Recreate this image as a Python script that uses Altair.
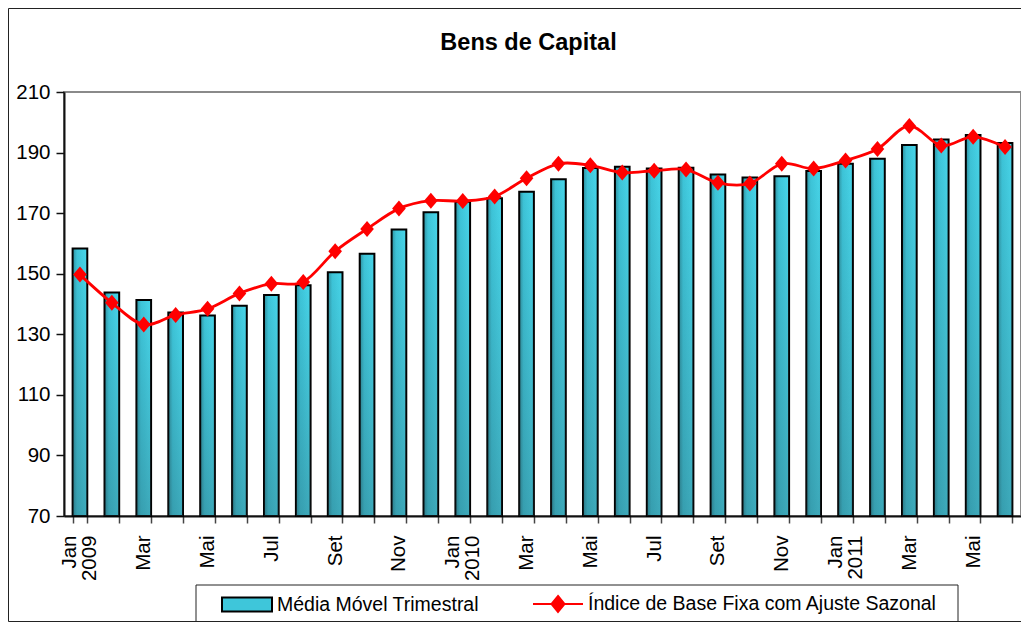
import altair as alt
import pandas as pd

# ---------------- data ----------------
periodos = [
    "2009-01", "2009-02", "2009-03", "2009-04", "2009-05", "2009-06",
    "2009-07", "2009-08", "2009-09", "2009-10", "2009-11", "2009-12",
    "2010-01", "2010-02", "2010-03", "2010-04", "2010-05", "2010-06",
    "2010-07", "2010-08", "2010-09", "2010-10", "2010-11", "2010-12",
    "2011-01", "2011-02", "2011-03", "2011-04", "2011-05", "2011-06",
]
rotulos = [
    "Jan\u00a0|2009", "", "Mar", "", "Mai", "", "Jul", "", "Set", "", "Nov", "",
    "Jan\u00a0|2010", "", "Mar", "", "Mai", "", "Jul", "", "Set", "", "Nov", "",
    "Jan\u00a0|2011", "", "Mar", "", "Mai", "",
]
media_movel = [
    158.3, 143.8, 141.3, 137.2, 136.2, 139.4, 143.0, 146.2, 150.5, 156.6,
    164.6, 170.3, 173.8, 174.9, 177.1, 181.2, 184.9, 185.3, 184.7, 185.0,
    182.8, 181.8, 182.2, 183.9, 186.3, 188.0, 192.5, 194.3, 195.8, 193.2,
]
indice_ajustado = [
    149.7, 140.4, 133.2, 136.4, 138.4, 143.5, 146.7, 147.3, 157.4, 164.8,
    171.5, 174.1, 174.0, 175.5, 181.5, 186.3, 185.8, 183.4, 184.0, 184.4,
    180.0, 179.8, 186.3, 184.7, 187.4, 191.2, 198.8, 192.3, 195.2, 191.8,
]
series = ["Média Móvel Trimestral", "Índice de Base Fixa com Ajuste Sazonal"]
y_ticks = [70, 90, 110, 130, 150, 170, 190, 210]
titulo = "Bens de Capital"

df = pd.DataFrame({"periodo": periodos, "media": media_movel, "indice": indice_ajustado})

FONT = "Liberation Sans"
W, H = 957, 424

arr_rot = "[" + ",".join("'" + r + "'" for r in rotulos) + "]"
arr_per = "[" + ",".join("'" + p + "'" for p in periodos) + "]"
arr_two = "[" + ",".join("'" + p + "'" for p, r in zip(periodos, rotulos) if "|" in r) + "]"
label_expr = (
    f"indexof({arr_per}, datum.value) >= 0 ? "
    f"split({arr_rot}[indexof({arr_per}, datum.value)], '|') : ''"
)
two_line_test = f"indexof({arr_two}, datum.value) >= 0"

x_enc = alt.X(
    "periodo:N",
    sort=periodos,
    scale=alt.Scale(paddingInner=0.54, paddingOuter=0.27),
    axis=alt.Axis(
        title=None,
        tickBand="extent",
        tickSize=7,
        tickColor="#444444",
        tickWidth=1.5,
        domainColor="#111111",
        domainWidth=2,
        labelAngle=270,
        labelAlign="right",
        labelBaseline="middle",
        labelFont=FONT,
        labelFontSize=20.5,
        labelColor="black",
        labelPadding=12,
        labelLineHeight=20,
        labelOffset={"condition": {"test": two_line_test, "value": -10}, "value": 0},
        labelExpr=label_expr,
        labelOverlap=False,
        grid=False,
    ),
)
y_scale = alt.Scale(domain=[70, 210], nice=False, zero=False)
y_axis = alt.Axis(
    title=None,
    values=y_ticks,
    tickSize=8,
    tickColor="#111111",
    tickWidth=1.5,
    domainColor="#111111",
    domainWidth=2,
    labelFont=FONT,
    labelFontSize=20.5,
    labelColor="black",
    labelPadding=6,
    labelFlush=False,
    grid=False,
)

base = alt.Chart(df)

bars = base.mark_bar(
    fill=alt.Gradient(
        gradient="linear",
        x1=0, y1=0, x2=1, y2=0,
        stops=[
            alt.GradientStop(offset=0, color="#2f8f9d"),
            alt.GradientStop(offset=0.3, color="#3dc4d8"),
            alt.GradientStop(offset=1, color="#48d6ea"),
        ],
    ),
    stroke="black",
    strokeWidth=2,
).encode(
    x=x_enc,
    y=alt.Y("media:Q", scale=y_scale, axis=y_axis),
    y2=alt.datum(70),
)

shade = base.mark_bar(
    fill=alt.Gradient(
        gradient="linear",
        x1=0, y1=0, x2=0, y2=1,
        stops=[
            alt.GradientStop(offset=0, color="rgba(40,70,80,0)"),
            alt.GradientStop(offset=1, color="rgba(40,70,80,0.3)"),
        ],
    ),
    strokeWidth=0,
).encode(
    x=alt.X("periodo:N", sort=periodos),
    y=alt.Y("media:Q"),
    y2=alt.datum(70),
)

line = base.mark_line(color="#ff0000", strokeWidth=2.8, interpolate="cardinal").encode(
    x=alt.X("periodo:N", sort=periodos),
    y=alt.Y("indice:Q"),
)

points = base.mark_point(
    filled=True,
    fill="#ff0000",
    opacity=1,
    shape="M0,-1L0.85,0L0,1L-0.85,0Z",
    size=256,
    strokeWidth=0,
).encode(
    x=alt.X("periodo:N", sort=periodos),
    y=alt.Y("indice:Q"),
)

# legend driven by scales on an empty layer
rect_path = "M-1,-0.28H1V0.28H-1Z"
line_path = "M-1,0H1M0,-0.32L0.26,0L0,0.32L-0.26,0Z"
leg_def = alt.Legend(
    title=None,
    orient="none",
    legendX=157,
    legendY=486,
    direction="horizontal",
    labelFont=FONT,
    labelFontSize=19.5,
    labelColor="black",
    labelLimit=600,
    labelOffset=4,
    columnPadding=50,
    symbolSize=2500,
    symbolStrokeWidth=2,
    symbolOpacity=1,
    padding=0,
)
legend_layer = (
    alt.Chart(pd.DataFrame({"serie": series}))
    .transform_filter("false")
    .mark_point(filled=True)
    .encode(
        color=alt.Color("serie:N", scale=alt.Scale(domain=series, range=["#3ec6da", "#ff0000"]), legend=leg_def),
        stroke=alt.Stroke("serie:N", scale=alt.Scale(domain=series, range=["#000000", "#ff0000"]), legend=leg_def),
        shape=alt.Shape("serie:N", scale=alt.Scale(domain=series, range=[rect_path, line_path]), legend=leg_def),
    )
)

one = alt.Data(values=[{"k": 1}])
legend_box = alt.Chart(one).mark_rect(fillOpacity=0, stroke="#222222", strokeWidth=1).encode(
    x=alt.value(132), x2=alt.value(894), y=alt.value(493), y2=alt.value(529.5)
)
frame = alt.Chart(one).mark_rect(fillOpacity=0, stroke="#222222", strokeWidth=1).encode(
    x=alt.value(-55.5), x2=alt.value(1100), y=alt.value(-83.5), y2=alt.value(529.5)
)

chart = (
    alt.layer(bars, shade, line, points, legend_layer, legend_box, frame)
    .properties(
        width=W,
        height=H,
        autosize=alt.AutoSizeParams(type="none"),
        padding={"left": 56, "top": 84, "right": 0, "bottom": 106},
        background="white",
        title=alt.TitleParams(
            text=titulo,
            font=FONT,
            fontSize=23.5,
            fontWeight="bold",
            color="black",
            anchor="middle",
            frame="group",
            dx=-14,
            offset=-65,
            baseline="alphabetic",
        ),
    )
    .configure_view(fill="#ffffc4", stroke="#8a8a8a", strokeWidth=2)
)

chart.save("out.html", embed_options={"renderer": "svg", "actions": False})
